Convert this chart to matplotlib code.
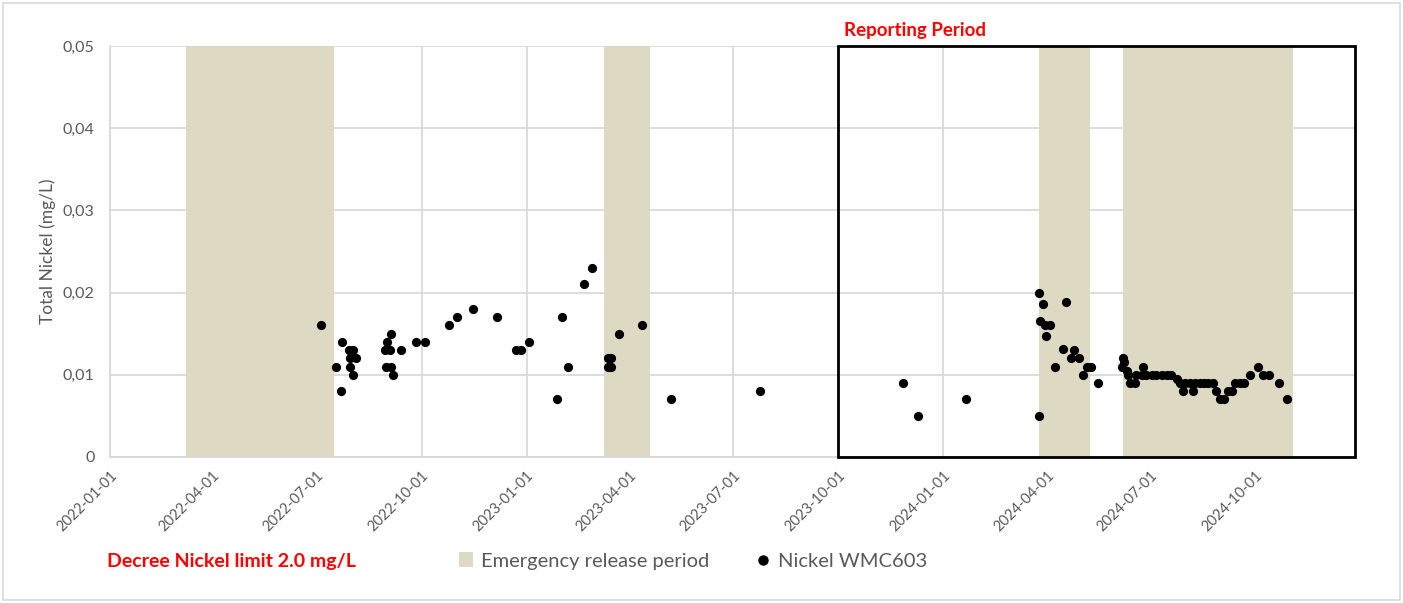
import matplotlib
matplotlib.use("Agg")
import matplotlib.pyplot as plt
import matplotlib.dates as mdates
from matplotlib.patches import Rectangle
from matplotlib.lines import Line2D
import pandas as pd

plt.rcParams['font.family'] = ['Lato', 'DejaVu Sans']

# ---------------- data ----------------
sample_dates = [
    "2022-07-05", "2022-07-18", "2022-07-23", "2022-07-22", "2022-07-29", "2022-08-02",
    "2022-07-30", "2022-08-05", "2022-07-30", "2022-08-02",
    "2022-09-04", "2022-09-01", "2022-08-30", "2022-09-03", "2022-09-13", "2022-08-31",
    "2022-09-04", "2022-09-06", "2022-09-26", "2022-10-04", "2022-10-25", "2022-11-01",
    "2022-11-15", "2022-12-06", "2022-12-23", "2022-12-27", "2023-01-03", "2023-01-28",
    "2023-02-01", "2023-02-06", "2023-02-20", "2023-02-27", "2023-03-13", "2023-03-16",
    "2023-03-13", "2023-03-16", "2023-03-23", "2023-04-12", "2023-05-08", "2023-07-25",
    "2023-11-27", "2023-12-10", "2024-01-21", "2024-03-25", "2024-03-25", "2024-03-29",
    "2024-03-26", "2024-03-30", "2024-04-04", "2024-03-31", "2024-04-08", "2024-04-15",
    "2024-04-18", "2024-04-22", "2024-04-25", "2024-04-29", "2024-05-03", "2024-05-06",
    "2024-05-10", "2024-05-16",
    "2024-06-06", "2024-06-07", "2024-06-08", "2024-06-10", "2024-06-11", "2024-06-13",
    "2024-06-17", "2024-06-18", "2024-06-24", "2024-06-23", "2024-06-27", "2024-07-02",
    "2024-07-06", "2024-07-11", "2024-07-15", "2024-07-19", "2024-07-24", "2024-07-27",
    "2024-07-31", "2024-08-04", "2024-08-09", "2024-07-29", "2024-08-07", "2024-08-13",
    "2024-08-17", "2024-08-20", "2024-08-25", "2024-08-27", "2024-08-31", "2024-09-03",
    "2024-09-07", "2024-09-10", "2024-09-13", "2024-09-17", "2024-09-21", "2024-09-26",
    "2024-10-03", "2024-10-07", "2024-10-13", "2024-10-21", "2024-10-28",
]
nickel_values = [
    0.016, 0.011, 0.014, 0.008, 0.013, 0.013,
    0.012, 0.012, 0.011, 0.010,
    0.015, 0.014, 0.013, 0.013, 0.013, 0.011,
    0.011, 0.010, 0.014, 0.014, 0.016, 0.017,
    0.018, 0.017, 0.013, 0.013, 0.014, 0.007,
    0.017, 0.011, 0.021, 0.023, 0.012, 0.012,
    0.011, 0.011, 0.015, 0.016, 0.007, 0.008,
    0.009, 0.005, 0.007, 0.005, 0.020, 0.0186,
    0.0165, 0.016, 0.016, 0.0147, 0.011, 0.0131,
    0.0188, 0.012, 0.013, 0.012, 0.010, 0.011,
    0.011, 0.009,
    0.011, 0.012, 0.0115, 0.0105, 0.010, 0.009,
    0.009, 0.010, 0.011, 0.010, 0.010, 0.010,
    0.010, 0.010, 0.010, 0.010, 0.0095, 0.009,
    0.009, 0.009, 0.009, 0.008, 0.008, 0.009,
    0.009, 0.009, 0.009, 0.008, 0.007, 0.007,
    0.008, 0.008, 0.009, 0.009, 0.009, 0.010,
    0.011, 0.010, 0.010, 0.009, 0.007,
]

emergency_starts = ["2022-03-09", "2023-03-10", "2024-03-25", "2024-06-07"]
emergency_ends = ["2022-07-16", "2023-04-19", "2024-05-09", "2024-11-03"]

reporting_start = "2023-10-01"
x_min, x_max = "2022-01-01", "2024-12-27"
y_ticks = [0, 0.01, 0.02, 0.03, 0.04, 0.05]
y_tick_labels = ["0", "0,01", "0,02", "0,03", "0,04", "0,05"]
x_ticks = pd.date_range("2022-01-01", "2024-10-01", freq="QS")

# ---------------- plot ----------------
W, H = 1403, 603
fig = plt.figure(figsize=(W / 100, H / 100), dpi=100)
ax = fig.add_axes([110 / W, 1 - 457 / H, (1355 - 110) / W, (457 - 46) / H])

band_color = "#ddd9c3"
grid_color = "#d9d9d9"
text_gray = "#595959"

xd = pd.to_datetime(sample_dates)
for s, e in zip(emergency_starts, emergency_ends):
    ax.axvspan(pd.Timestamp(s), pd.Timestamp(e), color=band_color, lw=0, zorder=1)

ax.scatter(xd, nickel_values, s=44, color="black", zorder=4, linewidths=0)

ax.set_xlim(pd.Timestamp(x_min), pd.Timestamp(x_max))
ax.set_ylim(0, 0.05)
ax.set_yticks(y_ticks)
ax.set_yticklabels(y_tick_labels)
ax.set_xticks(x_ticks)
ax.set_xticklabels([d.strftime("%Y-%m-%d") for d in x_ticks], rotation=45,
                   ha="right", rotation_mode="anchor")
ax.grid(True, color=grid_color, lw=1.3, zorder=0)
ax.set_axisbelow(True)
for side in ["top", "right"]:
    ax.spines[side].set_visible(False)
for side in ["left", "bottom"]:
    ax.spines[side].set_color(grid_color)
    ax.spines[side].set_linewidth(1.3)
ax.tick_params(length=0, colors=text_gray, labelsize=10.5)
ax.tick_params(axis="y", pad=11, labelsize=11.5)
ax.tick_params(axis="x", pad=8)
ax.set_ylabel("Total Nickel (mg/L)", color=text_gray, fontsize=12.5, labelpad=5)

# reporting period box
rs = mdates.date2num(pd.Timestamp(reporting_start))
xe = mdates.date2num(pd.Timestamp(x_max))
ax.add_patch(Rectangle((rs, 0), xe - rs, 0.05, fill=False, edgecolor="black",
                       lw=2, zorder=5, clip_on=False))
ax.text(rs + 5, 0.0508, "Reporting Period", color="#ff0000", fontweight="bold",
        fontsize=13.5, va="bottom", ha="left")

# legend
handles = [
    Rectangle((0, 0), 1, 1, facecolor=band_color, edgecolor="none"),
    Line2D([], [], marker="o", color="black", lw=0, markersize=6.5),
]
fig.legend(handles, ["Emergency release period", "Nickel WMC603"], loc="center",
           bbox_to_anchor=(693 / W, 1 - 561 / H), ncol=2, frameon=False,
           fontsize=14.5, labelcolor=text_gray, handlelength=0.7, handleheight=0.7,
           columnspacing=2.3, handletextpad=0.4)

fig.text(107 / W, 1 - 562 / H, "Decree Nickel limit 2.0 mg/L", color="#ff0000",
         fontweight="bold", fontsize=14, va="center", ha="left")

# outer frame
fig.patches.append(Rectangle((3 / W, 3 / H), 1 - 6 / W, 1 - 6 / H, fill=False,
                             edgecolor="#d9d9d9", lw=1.2, transform=fig.transFigure))

fig.savefig("out.png", dpi=100)
